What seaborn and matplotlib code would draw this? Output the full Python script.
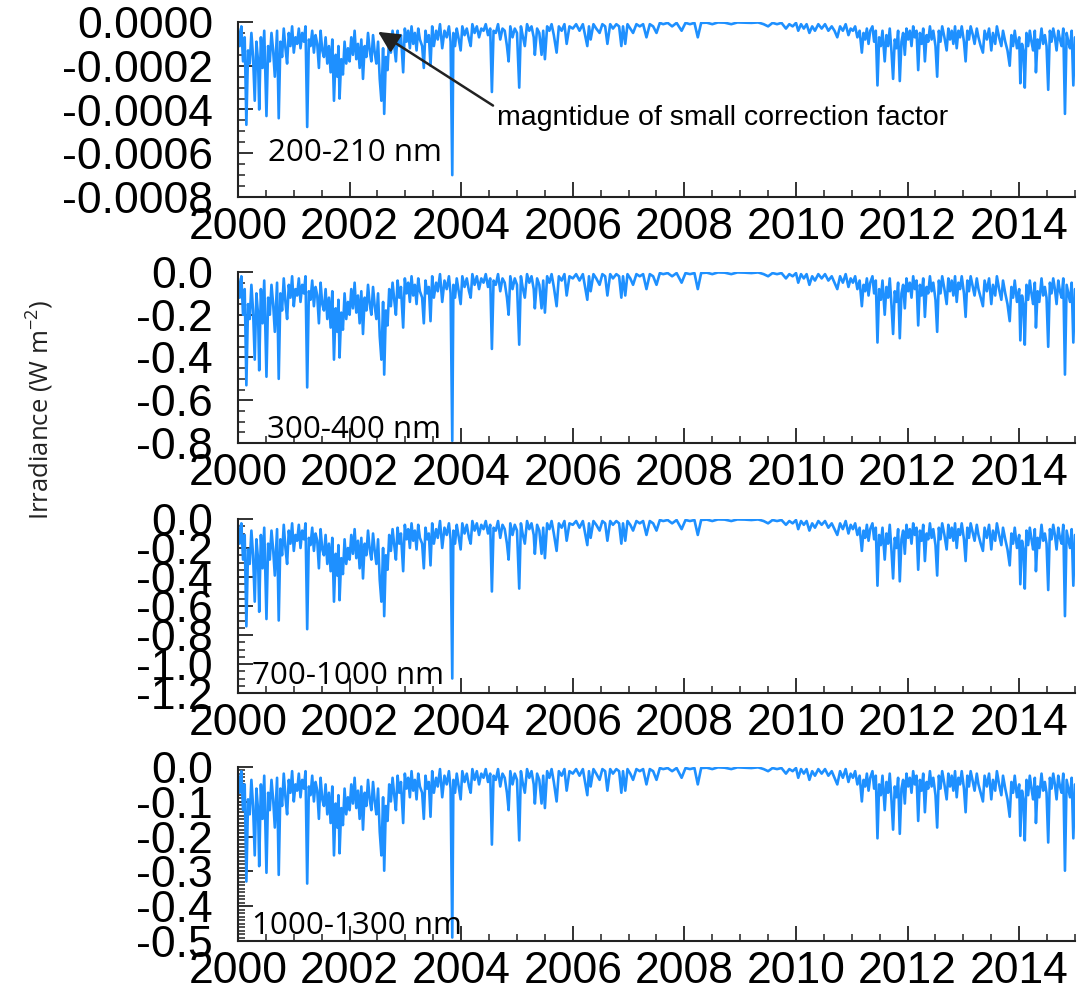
import numpy as np
import pandas as pd
import matplotlib
matplotlib.use("Agg")
import matplotlib.pyplot as plt
import seaborn as sns
from matplotlib.ticker import MultipleLocator, FuncFormatter

# ---------------- data ----------------
years = [
    2000.00, 2000.03, 2000.06, 2000.09, 2000.12, 2000.15, 2000.18, 2000.21, 2000.24, 2000.27, 2000.30, 2000.33,
    2000.36, 2000.38, 2000.41, 2000.44, 2000.47, 2000.51, 2000.54, 2000.57, 2000.60, 2000.63, 2000.66, 2000.70,
    2000.73, 2000.76, 2000.79, 2000.82, 2000.85, 2000.88, 2000.91, 2000.94, 2000.97, 2001.00,
    2001.03, 2001.06, 2001.09, 2001.12, 2001.15, 2001.18, 2001.21, 2001.24, 2001.27, 2001.30, 2001.33, 2001.36,
    2001.39, 2001.42, 2001.45, 2001.48, 2001.51, 2001.54, 2001.57, 2001.60, 2001.63, 2001.66, 2001.69, 2001.72,
    2001.75, 2001.78, 2001.80, 2001.82, 2001.85, 2001.88, 2001.91, 2001.94, 2001.97,
    2002.00, 2002.03, 2002.06, 2002.09, 2002.12, 2002.15, 2002.18, 2002.21, 2002.24, 2002.27, 2002.30, 2002.33,
    2002.36, 2002.39, 2002.42, 2002.45, 2002.48, 2002.51, 2002.54, 2002.57, 2002.60, 2002.62, 2002.65, 2002.68,
    2002.71, 2002.74, 2002.77, 2002.80, 2002.83, 2002.86, 2002.89, 2002.92, 2002.96, 2002.99,
    2003.02, 2003.05, 2003.08, 2003.11, 2003.14, 2003.17, 2003.20, 2003.23, 2003.26, 2003.30, 2003.33, 2003.36,
    2003.39, 2003.42, 2003.45, 2003.48, 2003.51, 2003.55, 2003.58, 2003.62, 2003.66, 2003.70, 2003.74, 2003.78,
    2003.81, 2003.84, 2003.86, 2003.89, 2003.92, 2003.95, 2003.99,
    2004.02, 2004.06, 2004.10, 2004.14, 2004.17, 2004.20, 2004.24, 2004.28, 2004.32, 2004.36, 2004.40, 2004.44,
    2004.48, 2004.52, 2004.55, 2004.58, 2004.62, 2004.66, 2004.70, 2004.74, 2004.78, 2004.82, 2004.85, 2004.88,
    2004.92, 2004.96,
    2005.00, 2005.04, 2005.07, 2005.10, 2005.14, 2005.18, 2005.22, 2005.26, 2005.30, 2005.32, 2005.36, 2005.40,
    2005.44, 2005.47, 2005.50, 2005.54, 2005.58, 2005.62, 2005.66, 2005.71, 2005.75, 2005.80, 2005.85, 2005.89,
    2005.94,
    2006.00, 2006.06, 2006.12, 2006.18, 2006.26, 2006.29, 2006.32, 2006.37, 2006.42, 2006.48, 2006.53, 2006.58,
    2006.62, 2006.67, 2006.72, 2006.78, 2006.83, 2006.87, 2006.90, 2006.94, 2006.98,
    2007.03, 2007.08, 2007.14, 2007.20, 2007.26, 2007.32, 2007.38, 2007.44, 2007.50, 2007.56, 2007.62, 2007.70,
    2007.78, 2007.86, 2007.95,
    2008.02, 2008.10, 2008.18, 2008.24, 2008.30, 2008.40, 2008.50, 2008.60, 2008.72, 2008.84, 2008.95,
    2009.08, 2009.20, 2009.32, 2009.42, 2009.50, 2009.58, 2009.66, 2009.74, 2009.82, 2009.88, 2009.94,
    2010.00, 2010.04, 2010.09, 2010.14, 2010.19, 2010.24, 2010.29, 2010.34, 2010.40, 2010.46, 2010.52, 2010.58,
    2010.64, 2010.69, 2010.74, 2010.79, 2010.84, 2010.89, 2010.94, 2010.98,
    2011.02, 2011.06, 2011.10, 2011.14, 2011.18, 2011.21, 2011.24, 2011.27, 2011.30, 2011.33, 2011.37, 2011.40,
    2011.43, 2011.46, 2011.49, 2011.52, 2011.55, 2011.59, 2011.62, 2011.65, 2011.68, 2011.71, 2011.74, 2011.77,
    2011.80, 2011.83, 2011.86, 2011.89, 2011.92, 2011.95, 2011.98,
    2012.01, 2012.04, 2012.07, 2012.10, 2012.13, 2012.16, 2012.19, 2012.22, 2012.25, 2012.28, 2012.31, 2012.34,
    2012.37, 2012.40, 2012.43, 2012.46, 2012.50, 2012.53, 2012.56, 2012.59, 2012.62, 2012.66, 2012.70, 2012.73,
    2012.76, 2012.79, 2012.82, 2012.85, 2012.88, 2012.91, 2012.94, 2012.97,
    2013.01, 2013.04, 2013.07, 2013.10, 2013.13, 2013.17, 2013.20, 2013.24, 2013.27, 2013.31, 2013.35, 2013.38,
    2013.42, 2013.46, 2013.50, 2013.53, 2013.57, 2013.60, 2013.64, 2013.68, 2013.71, 2013.75, 2013.79, 2013.83,
    2013.86, 2013.89, 2013.92, 2013.96,
    2014.00, 2014.02, 2014.05, 2014.08, 2014.10, 2014.13, 2014.16, 2014.19, 2014.22, 2014.25, 2014.28, 2014.30,
    2014.33, 2014.36, 2014.40, 2014.43, 2014.46, 2014.49, 2014.52, 2014.55, 2014.58, 2014.61, 2014.64, 2014.67,
    2014.70, 2014.73, 2014.76, 2014.79, 2014.82, 2014.85, 2014.88, 2014.91, 2014.94, 2014.97, 2015.00,
]

# 200-210 nm, in units of 1e-5 W m-2
irr_200_210 = [
    -3, -11, -2, -18, -7, -47, -13, -19, -5, -16, -36, -9, -18, -40, -7, -21, -4, -43, -11, -18, -5, -13, -25, -4,
    -44, -9, -16, -3, -12, -19, -5, -11, -2, -14,
    -7, -10, -3, -12, -5, -9, -2, -48, -8, -11, -4, -14, -6, -10, -21, -4, -13, -16, -7, -19, -11, -23, -8, -36,
    -15, -25, -11, -35, -17, -24, -9, -19, -12,
    -18, -7, -15, -4, -17, -10, -21, -8, -26, -11, -16, -5, -13, -18, -6, -14, -19, -9, -26, -36, -12, -42, -16, -22,
    -7, -14, -4, -11, -18, -4, -11, -6, -23, -3,
    -9, -4, -12, -2, -10, -5, -13, -3, -8, -11, -21, -4, -9, -6, -20, -2, -11, -4, -8, -1, -12, -4, -7, -2,
    -9, -70, -5, -11, -3, -7, -13,
    -2, -6, -3, -8, -11, -1, -5, -2, -7, -3, -4, -1, -6, -3, -32, -4, -5, -1, -8, -3, -4, -11, -18, -2,
    -7, -3,
    -5, -30, -2, -6, -11, -1, -4, -2, -7, -15, -3, -5, -15, -4, -17, -2, -4, -1, -6, -14, -2, -4, -1, -10,
    -2,
    -3, -1, -4, -1, -11, -2, -8, -1, -3, -5, -1, -2, -10, -1, -3, -1, -2, -11, -2, -10, -1,
    -3, -5, -1, -2, -1, -7, -1, -2, -5, -0.4, -1, -0.4, -2, -0.4, -4,
    -0.4, -1, -0.4, -7, -0.4, -0.3, -1, -0.2, -0.3, -1, -0.2,
    -0.3, -0.4, -0.2, -1, -2, -0.4, -1, -0.4, -3, -1, -2,
    -0.4, -4, -1, -3, -1, -5, -2, -4, -1, -3, -1, -4, -2, -4, -7, -2, -4, -1, -6, -3,
    -4, -2, -7, -4, -14, -5, -8, -3, -10, -4, -2, -9, -4, -29, -7, -11, -4, -18, -6, -11, -3, -13, -26, -8,
    -12, -4, -27, -9, -5, -15, -3,
    -8, -4, -11, -2, -7, -4, -22, -5, -10, -3, -18, -6, -9, -2, -8, -4, -11, -25, -4, -9, -2, -7, -13, -3,
    -8, -4, -10, -2, -12, -4, -7, -2,
    -9, -18, -4, -8, -2, -6, -10, -3, -7, -11, -14, -4, -8, -3, -13, -5, -10, -2, -7, -11, -4, -9, -13, -20,
    -6, -11, -4, -12,
    -7, -28, -10, -14, -30, -5, -11, -4, -9, -13, -4, -23, -8, -12, -3, -10, -6, -11, -31, -4, -9, -3, -7, -13,
    -4, -8, -11, -3, -42, -5, -9, -12, -4, -29, -7,
]

# 300-400 nm, in units of 1e-2 W m-2
irr_300_400 = [
    -3, -12, -2, -20, -8, -53, -15, -22, -6, -18, -41, -10, -20, -46, -8, -24, -4, -49, -12, -20, -6, -15, -28, -5,
    -50, -10, -18, -3, -14, -22, -6, -12, -2, -16,
    -8, -11, -3, -14, -6, -10, -2, -54, -9, -13, -4, -16, -7, -11, -24, -5, -15, -18, -8, -22, -12, -26, -9, -41,
    -17, -28, -13, -40, -19, -27, -10, -22, -14,
    -20, -8, -17, -5, -19, -11, -24, -9, -29, -12, -18, -6, -15, -20, -7, -16, -22, -10, -30, -41, -14, -48, -18, -25,
    -8, -16, -5, -13, -20, -4, -12, -7, -26, -3,
    -10, -5, -14, -2, -11, -6, -15, -3, -9, -12, -24, -4, -10, -7, -23, -2, -12, -5, -9, -1, -14, -4, -8, -2,
    -10, -79, -6, -12, -3, -8, -15,
    -2, -7, -3, -9, -12, -1, -6, -2, -8, -3, -5, -1, -7, -3, -36, -4, -6, -1, -9, -3, -5, -12, -20, -2,
    -8, -3,
    -6, -34, -2, -7, -12, -1, -5, -2, -8, -17, -3, -6, -17, -4, -19, -2, -5, -1, -7, -16, -2, -4, -1, -11,
    -2,
    -3, -1, -4, -1, -13, -2, -9, -1, -3, -6, -1, -2, -11, -1, -3, -1, -2, -12, -2, -11, -1,
    -3, -6, -1, -2, -1, -8, -1, -2, -6, -0.5, -1, -0.5, -2, -0.5, -5,
    -0.5, -1, -0.5, -8, -0.5, -0.3, -1, -0.2, -0.3, -1, -0.2,
    -0.3, -0.5, -0.2, -1, -2, -0.5, -1, -0.5, -3, -1, -2,
    -0.5, -5, -1, -3, -1, -6, -2, -4, -1, -3, -1, -4, -2, -5, -8, -2, -5, -1, -7, -3,
    -5, -2, -8, -4, -16, -6, -9, -3, -11, -5, -2, -10, -4, -33, -8, -13, -4, -20, -7, -12, -3, -15, -29, -9,
    -14, -5, -31, -10, -6, -17, -3,
    -9, -5, -12, -2, -8, -4, -25, -6, -11, -3, -21, -7, -10, -2, -9, -5, -13, -28, -4, -10, -2, -8, -15, -3,
    -9, -4, -11, -2, -14, -5, -8, -2,
    -10, -21, -4, -9, -2, -7, -11, -3, -8, -12, -16, -4, -9, -3, -15, -6, -11, -2, -8, -13, -4, -10, -15, -23,
    -7, -12, -4, -14,
    -8, -32, -11, -16, -34, -6, -13, -4, -10, -15, -5, -26, -9, -14, -3, -11, -7, -12, -35, -5, -10, -3, -8, -15,
    -4, -9, -12, -3, -48, -6, -10, -14, -5, -33, -8,
]

# 700-1000 nm, in units of 1e-2 W m-2
irr_700_1000 = [
    -4, -17, -3, -28, -11, -74, -21, -31, -8, -25, -57, -14, -28, -64, -11, -34, -6, -69, -17, -28, -8, -21, -39, -7,
    -70, -14, -25, -4, -20, -31, -8, -17, -3, -22,
    -11, -15, -4, -20, -8, -14, -3, -76, -13, -18, -6, -22, -10, -15, -34, -7, -21, -25, -11, -31, -17, -36, -13, -57,
    -24, -39, -18, -56, -27, -38, -14, -31, -20,
    -28, -11, -24, -7, -27, -15, -34, -13, -41, -17, -25, -8, -21, -28, -10, -22, -31, -14, -42, -57, -20, -67, -25, -35,
    -11, -22, -7, -18, -28, -6, -17, -10, -36, -4,
    -14, -7, -20, -3, -15, -8, -21, -4, -13, -17, -34, -6, -14, -10, -32, -3, -17, -7, -13, -1.4, -20, -6, -11, -3,
    -14, -110, -8, -17, -4, -11, -21,
    -3, -10, -4, -13, -17, -1.4, -8, -3, -11, -4, -7, -1.4, -10, -4, -50, -6, -8, -1.4, -13, -4, -7, -17, -28, -3,
    -11, -4,
    -8, -48, -3, -10, -17, -1.4, -7, -3, -11, -24, -4, -8, -24, -6, -27, -3, -7, -1.4, -10, -22, -3, -6, -1.4, -15,
    -3,
    -4, -1.4, -6, -1.4, -18, -3, -13, -1.4, -4, -8, -1.4, -3, -15, -1.4, -4, -1.4, -3, -17, -3, -15, -1.4,
    -4, -8, -1.4, -3, -1.4, -11, -1.4, -3, -8, -0.7, -1.4, -0.7, -3, -0.7, -7,
    -0.7, -1.4, -0.7, -11, -0.7, -0.4, -1.4, -0.3, -0.4, -1.4, -0.3,
    -0.4, -0.7, -0.3, -1.4, -3, -0.7, -1.4, -0.7, -4, -1.4, -3,
    -0.7, -7, -1.4, -4, -1.4, -8, -3, -6, -1.4, -4, -1.4, -6, -3, -7, -11, -3, -7, -1.4, -10, -4,
    -7, -3, -11, -6, -22, -8, -13, -4, -15, -7, -3, -14, -6, -46, -11, -18, -6, -28, -10, -17, -4, -21, -41, -13,
    -20, -7, -43, -14, -8, -24, -4,
    -13, -7, -17, -3, -11, -6, -35, -8, -15, -4, -29, -10, -14, -3, -13, -7, -18, -39, -6, -14, -3, -11, -21, -4,
    -13, -6, -15, -3, -20, -7, -11, -3,
    -14, -29, -6, -13, -3, -10, -15, -4, -11, -17, -22, -6, -13, -4, -21, -8, -15, -3, -11, -18, -6, -14, -21, -32,
    -10, -17, -6, -20,
    -11, -45, -15, -22, -48, -8, -18, -6, -14, -21, -7, -36, -13, -20, -4, -15, -10, -17, -49, -7, -14, -4, -11, -21,
    -6, -13, -17, -4, -67, -8, -14, -20, -7, -46, -11,
]

# 1000-1300 nm, in units of 1e-3 W m-2
irr_1000_1300 = [
    -19, -74, -12, -124, -50, -329, -93, -136, -37, -112, -254, -62, -124, -285, -50, -149, -25, -304, -74, -124, -37,
    -93, -174, -31, -310, -62, -112, -19, -87, -136, -37, -74, -12, -99,
    -50, -68, -19, -87, -37, -62, -12, -335, -56, -81, -25, -99, -43, -68, -149, -31, -93, -112, -50, -136, -74,
    -161, -56, -254, -105, -174, -81, -248, -118, -167, -62, -136, -87,
    -124, -50, -105, -31, -118, -68, -149, -56, -180, -74, -112, -37, -93, -124, -43, -99, -136, -62, -186, -254,
    -87, -298, -112, -155, -50, -99, -31, -81, -124, -25, -74, -43, -161, -19,
    -62, -31, -87, -12, -68, -37, -93, -19, -56, -74, -149, -25, -62, -43, -143, -12, -74, -31, -56, -6, -87,
    -25, -50, -12, -62, -490, -37, -74, -19, -50, -93,
    -12, -43, -19, -56, -74, -6, -37, -12, -50, -19, -31, -6, -43, -19, -223, -25, -37, -6, -56, -19, -31, -74,
    -124, -12, -50, -19,
    -37, -211, -12, -43, -74, -6, -31, -12, -50, -105, -19, -37, -105, -25, -118, -12, -31, -6, -43, -99, -12,
    -25, -6, -68, -12,
    -19, -6, -25, -6, -81, -12, -56, -6, -19, -37, -6, -12, -68, -6, -19, -6, -12, -74, -12, -68, -6,
    -19, -37, -6, -12, -6, -50, -6, -12, -37, -3, -6, -3, -12, -3, -31,
    -3, -6, -3, -50, -3, -2, -6, -1, -2, -6, -1,
    -2, -3, -1, -6, -12, -3, -6, -3, -19, -6, -12,
    -3, -31, -6, -19, -6, -37, -12, -25, -6, -19, -6, -25, -12, -31, -50, -12, -31, -6, -43, -19,
    -31, -12, -50, -25, -99, -37, -56, -19, -68, -31, -12, -62, -25, -205, -50, -81, -25, -124, -43, -74, -19,
    -93, -180, -56, -87, -31, -192, -62, -37, -105, -19,
    -56, -31, -74, -12, -50, -25, -155, -37, -68, -19, -130, -43, -62, -12, -56, -31, -81, -174, -25, -62, -12,
    -50, -93, -19, -56, -25, -68, -12, -87, -31, -50, -12,
    -62, -130, -25, -56, -12, -43, -68, -19, -50, -74, -99, -25, -56, -19, -93, -37, -68, -12, -50, -81, -25,
    -62, -93, -143, -43, -74, -25, -87,
    -50, -198, -68, -99, -211, -37, -81, -25, -62, -93, -31, -161, -56, -87, -19, -68, -43, -74, -217, -31, -62,
    -19, -50, -93, -25, -56, -74, -19, -298, -37, -62, -87, -31, -205, -50,
]

band_labels = ["200-210 nm", "300-400 nm", "700-1000 nm", "1000-1300 nm"]
band_units = [1e-5, 1e-2, 1e-2, 1e-3]
y_bottoms = [-0.0008, -0.8, -1.2, -0.5]
y_major = [0.0002, 0.2, 0.2, 0.1]
y_minor = [0.00005, 0.05, 0.05, 0.01]
y_fmt = ["%.4f", "%.1f", "%.1f", "%.1f"]
year_ticks = list(range(2000, 2015, 2))
annotation_text = "magntidue of small correction factor"
ylabel_text = "Irradiance (W m$^{-2}$)"

series = [irr_200_210, irr_300_400, irr_700_1000, irr_1000_1300]

# ---------------- styling ----------------
sns.set_theme(style="white")
plt.rcParams["font.family"] = ["Liberation Sans", "DejaVu Sans"]
plt.rcParams["axes.unicode_minus"] = False
plt.rcParams["mathtext.default"] = "regular"

W, H = 1081, 983
fig = plt.figure(figsize=(W / 100, H / 100), dpi=100)

# panel boxes in pixels: (top, bottom)
panel_px = [(22, 197), (272, 443), (519, 693), (767, 941)]
left_px, right_px = 238, 1075
label_pos = [(0.036, 0.25), (0.035, 0.075), (0.017, 0.10), (0.017, 0.085)]

line_color = "#1E90FF"
axes = []
for i in range(4):
    top, bot = panel_px[i]
    ax = fig.add_axes([left_px / W, 1 - bot / H, (right_px - left_px) / W, (bot - top) / H])
    axes.append(ax)
    df = pd.DataFrame({"year": years, "irr": np.array(series[i], dtype=float) * band_units[i]})
    sns.lineplot(data=df, x="year", y="irr", ax=ax, color=line_color, linewidth=1.9,
                 estimator=None, sort=False)
    ax.set_xlim(2000, 2015)
    ax.set_ylim(y_bottoms[i], 0)
    ax.set_xlabel("")
    ax.set_ylabel("")
    for s in ["top", "right"]:
        ax.spines[s].set_visible(False)
    for s in ["left", "bottom"]:
        ax.spines[s].set_color("#222222")
        ax.spines[s].set_linewidth(1.5)
    ax.set_xticks(year_ticks)
    ax.xaxis.set_minor_locator(MultipleLocator(0.5))
    ax.yaxis.set_major_locator(MultipleLocator(y_major[i]))
    ax.yaxis.set_minor_locator(MultipleLocator(y_minor[i]))
    fmt = y_fmt[i]
    ax.yaxis.set_major_formatter(FuncFormatter(lambda v, p, f=fmt: f % (0.0 if abs(v) < 1e-12 else v)))
    ax.xaxis.set_major_formatter(FuncFormatter(lambda v, p: "%d" % round(v)))
    ax.tick_params(axis="both", which="major", direction="in", length=11, width=1.3,
                   color="#222222", labelsize=32, labelcolor="black")
    ax.tick_params(axis="both", which="minor", direction="in", length=5, width=1.1, color="#222222")
    ax.tick_params(axis="y", which="major", pad=18)
    ax.tick_params(axis="x", which="major", pad=7)
    ax.tick_params(left=True, bottom=True, which="both")
    ax.text(label_pos[i][0], label_pos[i][1], band_labels[i], transform=ax.transAxes,
            ha="left", va="center", fontsize=22.5, family=["Open Sans", "DejaVu Sans"], color="black")
    ax.set_facecolor("white")

# annotation on the top panel
ax0 = axes[0]
ax0.annotate("", xy=(2002.51, -0.000045), xytext=(2004.57, -0.000382),
             arrowprops=dict(arrowstyle="-|>", mutation_scale=32, lw=1.8, color="#222222",
                             shrinkA=0, shrinkB=0))
ax0.text(2004.64, -0.00044, annotation_text, ha="left", va="center", fontsize=20.5, color="black")

fig.text(40 / W, 1 - 410 / H, ylabel_text, rotation=90, ha="center", va="center",
         fontsize=18.5, family=["Open Sans", "DejaVu Sans"], color="#222222")

fig.savefig("out.png", dpi=100, facecolor="white")
